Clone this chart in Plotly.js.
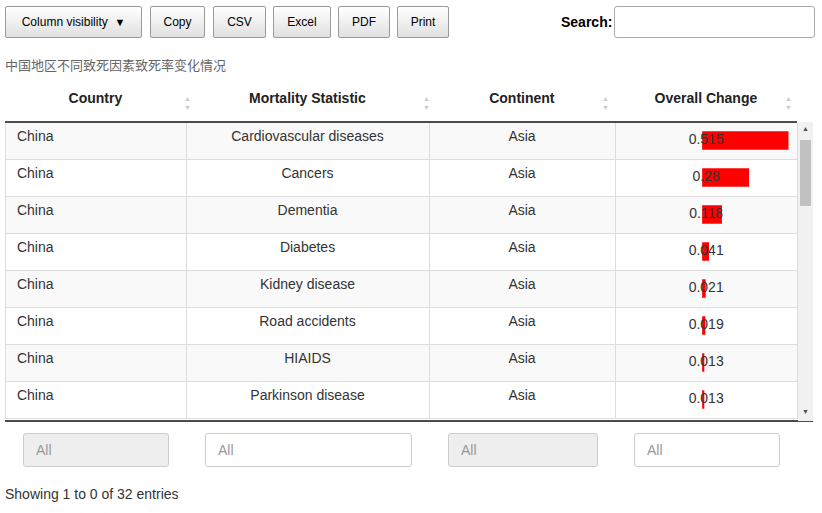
<!DOCTYPE html>
<html><head><meta charset="utf-8">
<script src="https://cdn.plot.ly/plotly-3.0.1.min.js"></script>
<style>
body{margin:0;font-family:"Liberation Sans",Arial,sans-serif;width:822px;height:513px;position:relative;background:#fff;overflow:hidden}
.btn{position:absolute;top:6px;height:32px;border:1px solid #999;border-radius:2px;background:linear-gradient(#fff,#e0e0e0);font-size:12px;color:#000;box-sizing:border-box;display:flex;align-items:center;justify-content:center}
.inp{position:absolute;top:433px;height:34px;border:1px solid #ccc;border-radius:3px;box-sizing:border-box;font-size:14px;color:#999;padding-left:12px;display:flex;align-items:center}
#chart,#bars{position:absolute;left:5px;top:82px;width:808px;height:340px}
</style></head><body>
<div class="btn" style="left:5px;width:137px">Column visibility &nbsp;<span style="font-size:11px">&#9660;</span></div>
<div class="btn" style="left:150px;width:55px">Copy</div>
<div class="btn" style="left:213px;width:53px">CSV</div>
<div class="btn" style="left:273px;width:58px">Excel</div>
<div class="btn" style="left:338px;width:52px">PDF</div>
<div class="btn" style="left:397px;width:52px">Print</div>
<div style="position:absolute;left:561px;top:14px;font-size:14px;font-weight:bold">Search:</div>
<div style="position:absolute;left:614px;top:6px;width:201px;height:32px;border:1px solid #aaa;border-radius:3px;box-sizing:border-box"></div>
<div style="position:absolute;left:5px;top:55px;font-size:13px;color:#666;font-family:'Noto Sans CJK SC',sans-serif">中国地区不同致死因素致死率变化情况</div>
<div id="chart"></div>
<div id="bars"></div>
<div style="position:absolute;left:798px;top:122px;width:15px;height:299px;background:#f1f1f1">
 <div style="position:absolute;left:2px;top:18px;width:11px;height:66px;background:#c1c1c1"></div>
 <div style="position:absolute;left:4px;top:3px;font-size:7px;color:#505050">&#9650;</div>
 <div style="position:absolute;left:4px;top:286px;font-size:7px;color:#505050">&#9660;</div>
</div>
<div class="inp" style="left:23px;width:146px;background:#eee">All</div>
<div class="inp" style="left:205px;width:207px">All</div>
<div class="inp" style="left:448px;width:150px;background:#eee">All</div>
<div class="inp" style="left:634px;width:146px">All</div>
<div style="position:absolute;left:5px;top:486px;font-size:14px;color:#333">Showing 1 to 0 of 32 entries</div>
<script>
const headers = ['Country', 'Mortality Statistic', 'Continent', 'Overall Change'];
const countries = ['China', 'China', 'China', 'China', 'China', 'China', 'China', 'China'];
const statistics = ['Cardiovascular diseases', 'Cancers', 'Dementia', 'Diabetes',
  'Kidney disease', 'Road accidents', 'HIAIDS', 'Parkinson disease'];
const continents = ['Asia', 'Asia', 'Asia', 'Asia', 'Asia', 'Asia', 'Asia', 'Asia'];
const changes = [0.515, 0.28, 0.118, 0.041, 0.021, 0.019, 0.013, 0.013];

const n = changes.length;
const rowIdx = changes.map((_, i) => i);
const fills = rowIdx.map(i => i % 2 === 0 ? '#f9f9f9' : '#ffffff');
const font = 'Liberation Sans, Arial, sans-serif';

const table = {
  type: 'table',
  domain: {x: [0, 792 / 808], y: [0, 1]},
  columnwidth: [181, 243, 186, 182],
  header: {
    values: headers.map(h => '<b>' + h + '</b>'),
    height: 40, align: 'center',
    line: {color: '#ffffff', width: 1},
    fill: {color: '#ffffff'},
    font: {family: font, size: 14, color: '#222'}
  },
  cells: {
    values: [countries.map(c => '\u00a0' + c), statistics, continents, changes.map(() => '')],
    height: 37,
    align: ['left', 'center', 'center', 'center'],
    line: {color: '#dddddd', width: 1},
    fill: {color: [fills, fills, fills, fills]},
    font: {family: font, size: 14, color: '#333'}
  }
};

const sortArrows = headers.map((h, i) => ({
  xref: 'paper', yref: 'paper',
  x: [177, 421, 606, 789][i] / 808, y: 1 - 10 / 340,
  text: '▲<br>▼', showarrow: false,
  font: {size: 7, color: '#cccccc'}
}));

Plotly.newPlot('chart', [table], {
  width: 808, height: 340,
  margin: {l: 0, r: 0, t: 0, b: 0},
  paper_bgcolor: 'rgba(0,0,0,0)',
  annotations: sortArrows,
  shapes: [
    {type: 'line', xref: 'paper', yref: 'paper', x0: 0, x1: 792 / 808, y0: 1 - 40 / 340, y1: 1 - 40 / 340, line: {color: '#111', width: 1.5}},
    {type: 'line', xref: 'paper', yref: 'paper', x0: 0, x1: 1, y0: 1 / 340, y1: 1 / 340, line: {color: '#111', width: 1.5}}
  ]
}, {displayModeBar: false, staticPlot: true});

const bars = {
  type: 'bar', orientation: 'h',
  x: changes, y: rowIdx, width: 0.5,
  marker: {color: '#ff0000'},
  hoverinfo: 'skip', showlegend: false
};

const labels = {
  type: 'scatter', mode: 'text',
  x: changes.map(() => 0.024), y: rowIdx,
  text: changes.map(v => String(v)),
  textfont: {family: font, size: 14, color: '#333'},
  hoverinfo: 'skip', showlegend: false, cliponaxis: false
};

Plotly.newPlot('bars', [bars, labels], {
  width: 808, height: 340,
  margin: {l: 0, r: 0, t: 0, b: 0},
  paper_bgcolor: 'rgba(0,0,0,0)', plot_bgcolor: 'rgba(0,0,0,0)',
  xaxis: {domain: [610 / 808, 792 / 808], range: [-0.52, 0.566], visible: false, fixedrange: true},
  yaxis: {domain: [4 / 340, 300 / 340], range: [n - 0.5, -0.5], visible: false, fixedrange: true},
  showlegend: false
}, {displayModeBar: false, staticPlot: true});
</script>
</body></html>
